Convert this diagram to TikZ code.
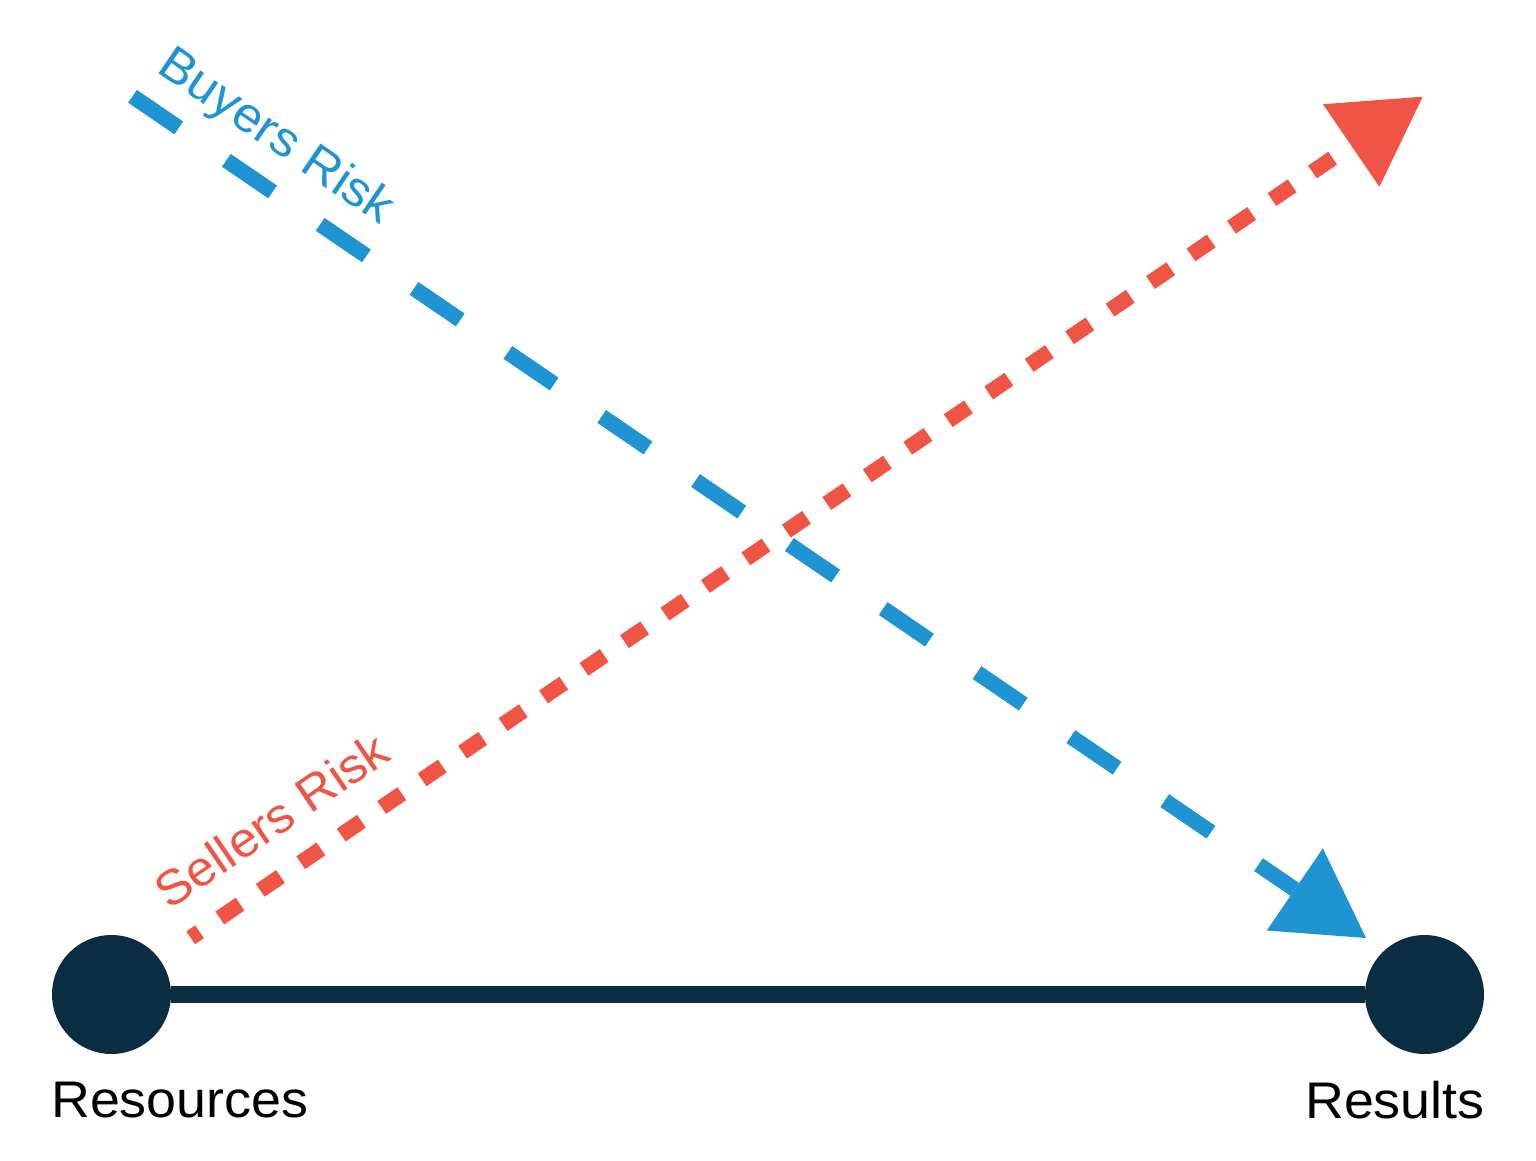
\documentclass[tikz,border=0pt]{standalone}
\usepackage{fontspec}
\setmainfont{Liberation Sans}[FakeStretch=1.045]
\usetikzlibrary{arrows.meta}
\definecolor{navy}{HTML}{0B2D42}
\definecolor{bblue}{HTML}{1F94D2}
\definecolor{rred}{HTML}{F05445}
\begin{document}
\begin{tikzpicture}[x=1pt,y=-1pt,
  endpoint/.style={circle, fill=navy, minimum size=119pt, inner sep=0pt},
  axisline/.style={draw=navy, line width=17pt},
  buyline/.style={draw=bblue, line width=15.5pt, dash pattern=on 56pt off 57.6pt,
    -{Triangle[length=86.2pt,width=99.5pt,line width=0pt]}},
  sellline/.style={draw=rred, line width=15.5pt, dash pattern=on 24.5pt off 24.5pt, dash phase=13.8pt,
    -{Triangle[length=86.6pt,width=100pt,line width=0pt]}},
  axislabel/.style={font=\fontsize{51.5}{60}\selectfont, text=black, inner sep=0pt, anchor=base west},
  risklabel/.style={font=\fontsize{49}{58}\selectfont, inner sep=0pt, anchor=base west}]
\useasboundingbox (0,0) rectangle (1536,1161);
\node[endpoint] (res) at (111.5,994.5) {};
\node[endpoint] (rsl) at (1424.5,994.5) {};
\draw[axisline] (res) -- (rsl);
\node[axislabel] (reslabel) at (51,1117) {Resources};
\node[axislabel] (rsllabel) at (1305,1118) {Results};
\coordinate (bs) at (132.5,96.3);
\coordinate (bt) at (1366,938);
\coordinate (ss) at (190.7,937.8);
\coordinate (st) at (1422.7,96.7);
\draw[buyline] (bs) -- (bt);
\draw[sellline] (ss) -- (st);
\node[risklabel, text=bblue, rotate=-34.31] (buy) at (155.4,71.3) {Buyers Risk};
\node[risklabel, text=rred, rotate=34.31] (sell) at (169.5,911.1) {Sellers Risk};
\end{tikzpicture}
\end{document}
